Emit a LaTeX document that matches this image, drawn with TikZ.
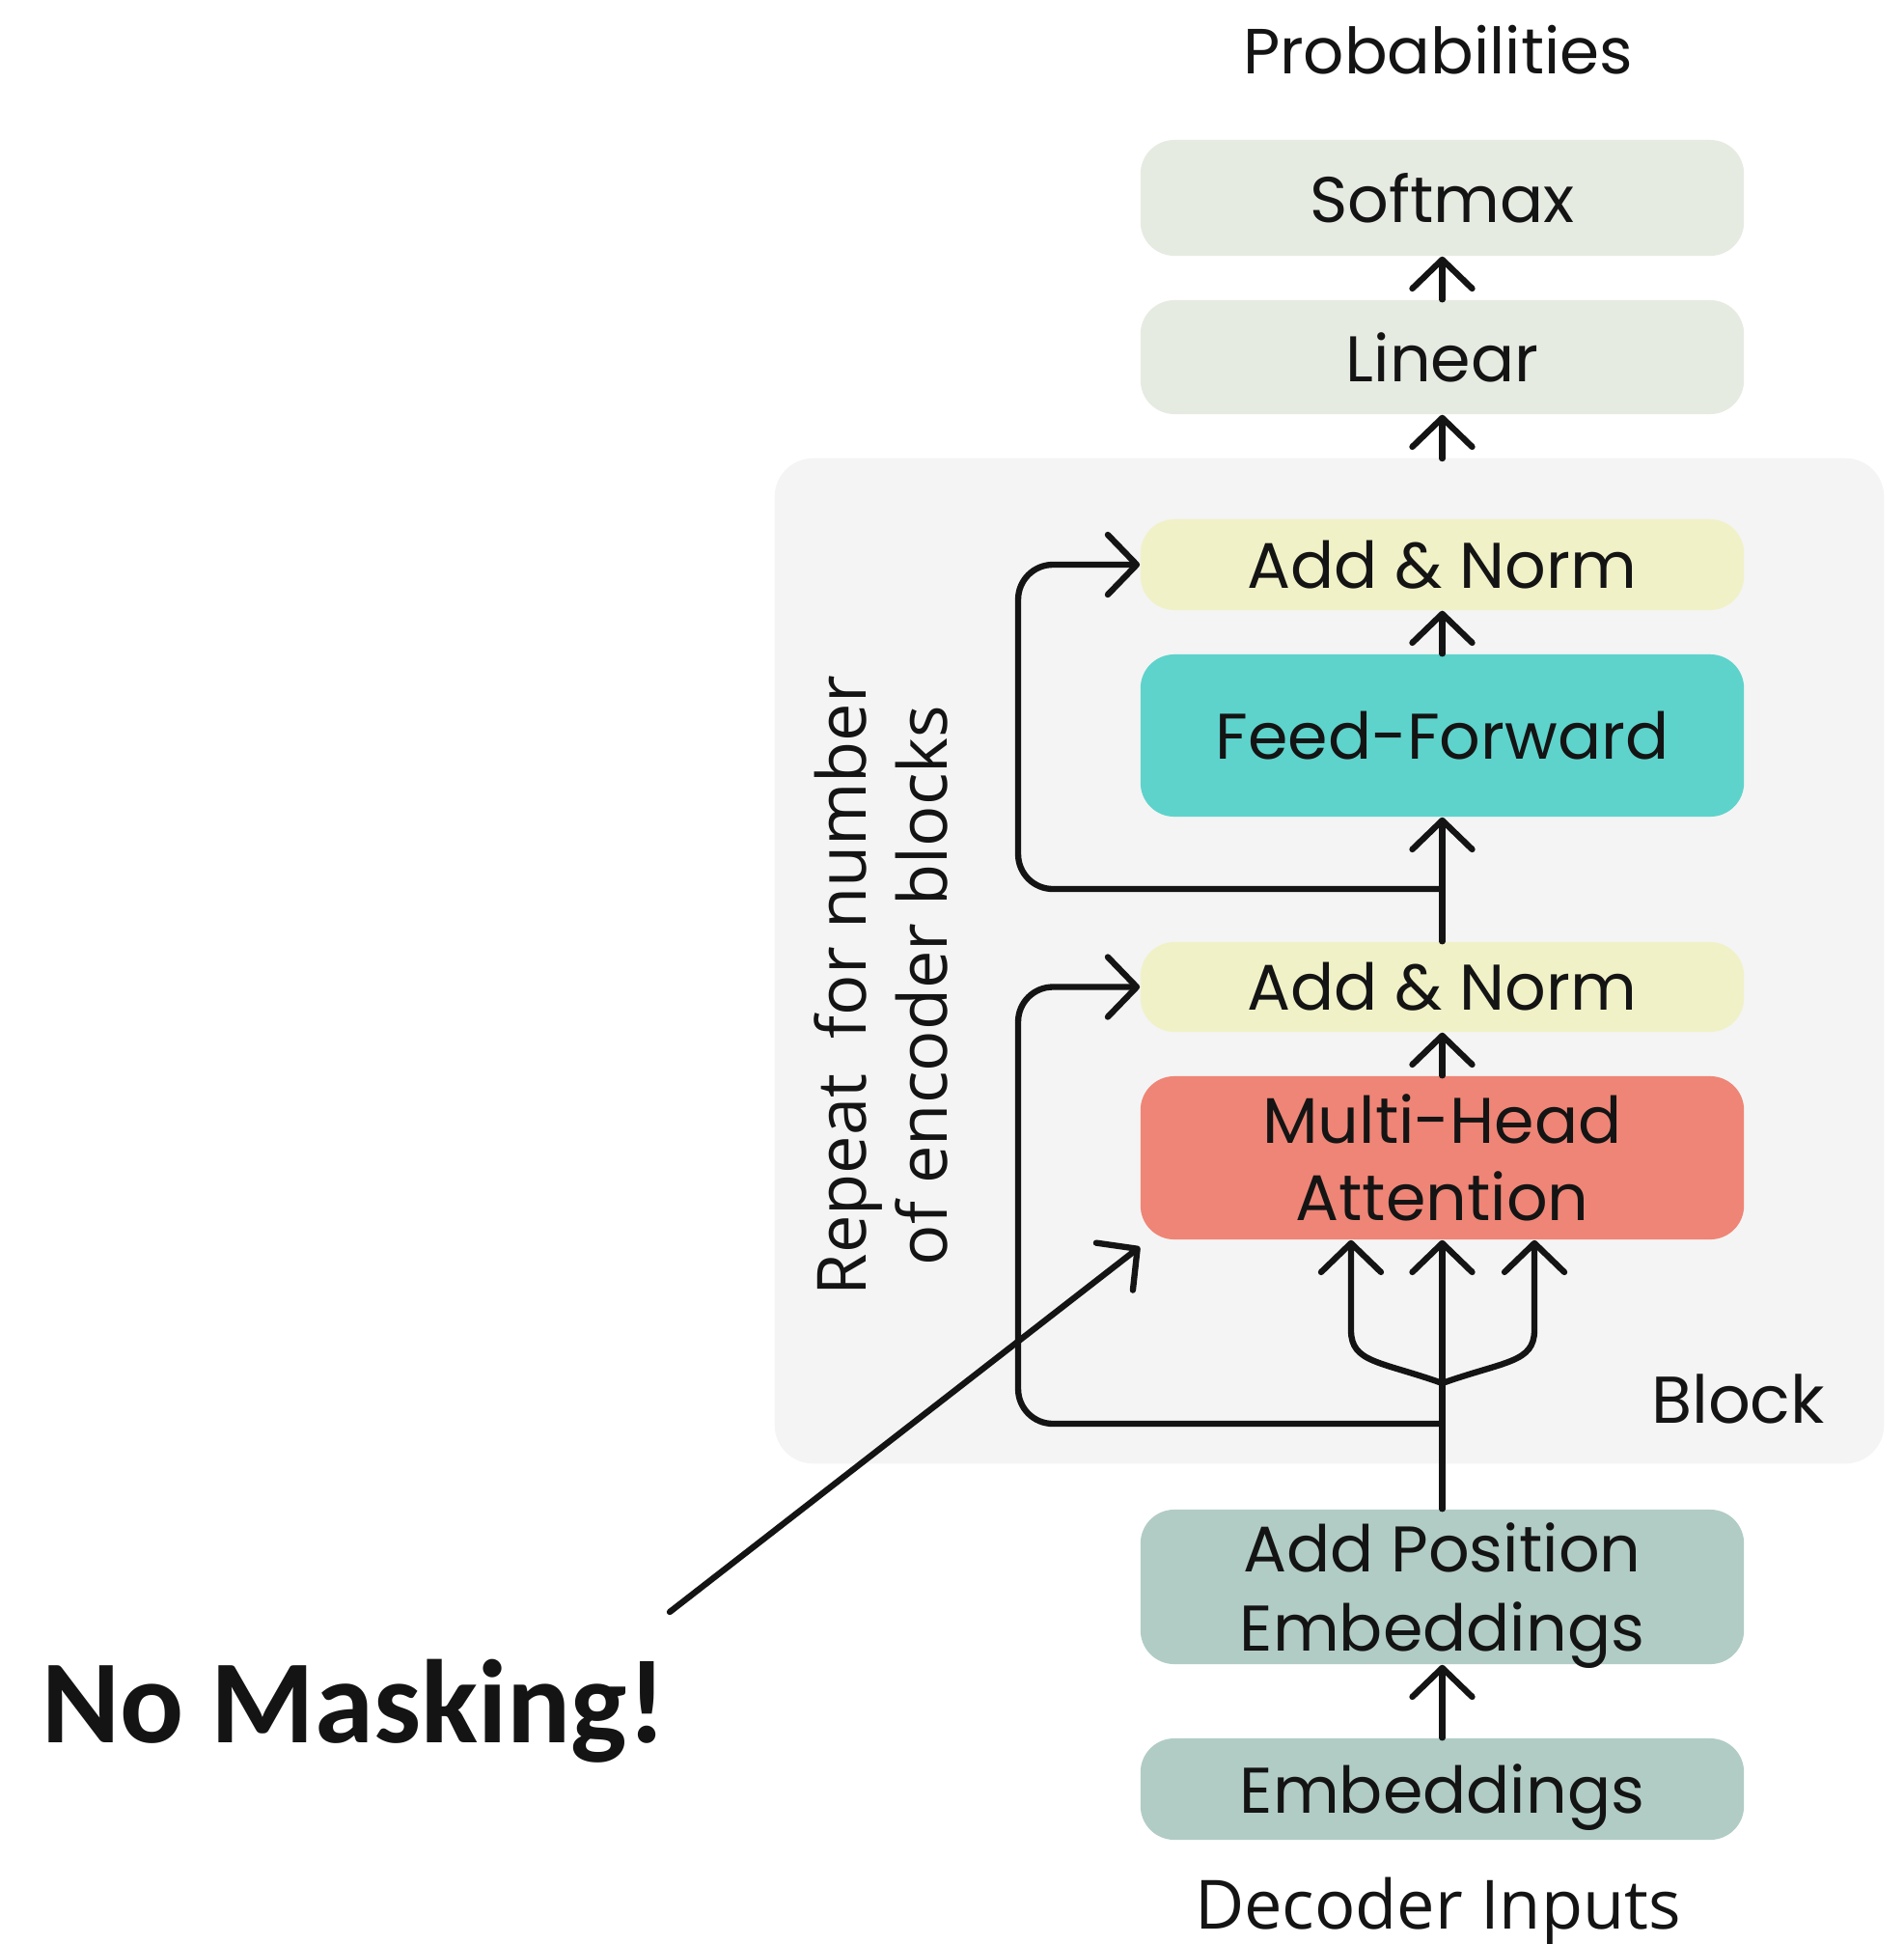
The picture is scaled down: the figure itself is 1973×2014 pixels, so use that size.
\documentclass[tikz,border=0pt]{standalone}
\usepackage{fontspec}
\setmainfont{Poppins}
\newfontfamily\sidefont{Open Sans}
\newfontfamily\notefont{Carlito}
\usetikzlibrary{arrows.meta,calc}

\definecolor{headfill}{HTML}{E6EBE2}
\definecolor{normfill}{HTML}{F1F1C8}
\definecolor{fffill}{HTML}{5ED3CC}
\definecolor{attnfill}{HTML}{EF8576}
\definecolor{embfill}{HTML}{B1CCC5}
\definecolor{blockfill}{HTML}{F4F4F4}
\definecolor{ink}{HTML}{141414}

% extra head room so that labels with descenders sit optically centred
\newcommand{\topstrut}{\rule{0pt}{19.5pt}}

\tikzset{
  layertext/.style={align=center, inner sep=0pt, text=ink,
    font=\fontsize{19}{22.8}\selectfont},
  layer/.style={layertext, rounded corners=0.35cm, minimum width=6.25cm},
  flow/.style={draw=ink, line width=1.8pt, line cap=round,
    -{Straight Barb[length=0.3cm,width=0.62cm,line cap=round,line join=round]}},
  caption/.style={text=ink, inner sep=0pt},
}

\begin{document}
\begin{tikzpicture}[x=0.01cm,y=-0.01cm]
\useasboundingbox (0,0) rectangle (1973,2014);

% repeated decoder block background
\node[fill=blockfill, rounded corners=0.4cm, minimum width=11.49cm,
  minimum height=10.41cm, inner sep=0pt] (block) at (1377.5,995.5) {};

% layers
\node[layer, fill=headfill, minimum height=1.20cm] (softmax) at (1494.5,205) {Softmax};
\node[layer, fill=headfill, minimum height=1.18cm] (linear) at (1494.5,370) {Linear};
\node[layer, fill=normfill, minimum height=0.94cm] (an1) at (1494.5,585) {Add \& Norm};
\node[layer, fill=fffill, minimum height=1.68cm] (ff) at (1494.5,762) {Feed-Forward};
\node[layer, fill=normfill, minimum height=0.93cm] (an2) at (1494.5,1022.5) {Add \& Norm};
\node[layer, fill=attnfill, minimum height=1.69cm] (mh) at (1494.5,1199.5) {Multi-Head\\Attention};
\node[layer, fill=embfill, minimum height=1.60cm,
  label={[layertext, yshift=-0.095cm]center:Add Position\\[0.5pt]Embeddings}]
  (ape) at (1494.5,1644) {};
\node[layer, fill=embfill, minimum height=1.05cm] (emb) at (1494.5,1853.5) {\topstrut Embeddings};

% captions
\node[caption, font=\fontsize{18.8}{21}\selectfont] (probs) at (1490,52) {Probabilities};
\node[caption, font=\sidefont\fontsize{20}{23}\selectfont] (inputs) at (1490,1980) {Decoder Inputs};
\node[caption, font=\fontsize{19.5}{22}\selectfont] (blocklabel) at (1801,1449) {Block};
\node[caption, font=\sidefont\fontsize{20}{23.9}\selectfont, rotate=90, align=center]
  (repeat) at (913,1021) {Repeat\ \ for number\\of encoder blocks};
\node[caption, font=\notefont\bfseries\fontsize{35}{40}\selectfont, anchor=base]
  (note) at (367,1805) {No Masking!};

% branch points
\coordinate (blocktop) at (1494.5,475);
\coordinate (split1) at (1494.5,921);
\coordinate (split2) at (1494.5,1475);
\coordinate (fork) at (1494.5,1433);
\coordinate (notetail) at (694,1670);

% main data path
\draw[flow] (linear.north) -- (softmax.south);
\draw[flow] (blocktop) -- (linear.south);
\draw[flow] (ff.north) -- (an1.south);
\draw[flow] (an2.north) -- (ff.south);
\draw[flow] (mh.north) -- (an2.south);
\draw[flow] (ape.north) -- (mh.south);
\draw[flow] (emb.north) -- (ape.south);

% query / key / value prongs
\draw[flow] (fork) .. controls (1430,1410) and (1400,1412) .. (1400,1378)
  -- ([xshift=-0.945cm]mh.south);
\draw[flow] (fork) .. controls (1559,1410) and (1590,1412) .. (1590,1378)
  -- ([xshift=0.955cm]mh.south);

% residual connections
\draw[flow, rounded corners=0.36cm] (split1) -| ([xshift=-1.26cm]an1.west) -- (an1.west);
\draw[flow, rounded corners=0.36cm] (split2) -| ([xshift=-1.26cm]an2.west) -- (an2.west);

% annotation pointer
\draw[flow] (notetail) -- ([yshift=-0.07cm]mh.south west);
\end{tikzpicture}
\end{document}
